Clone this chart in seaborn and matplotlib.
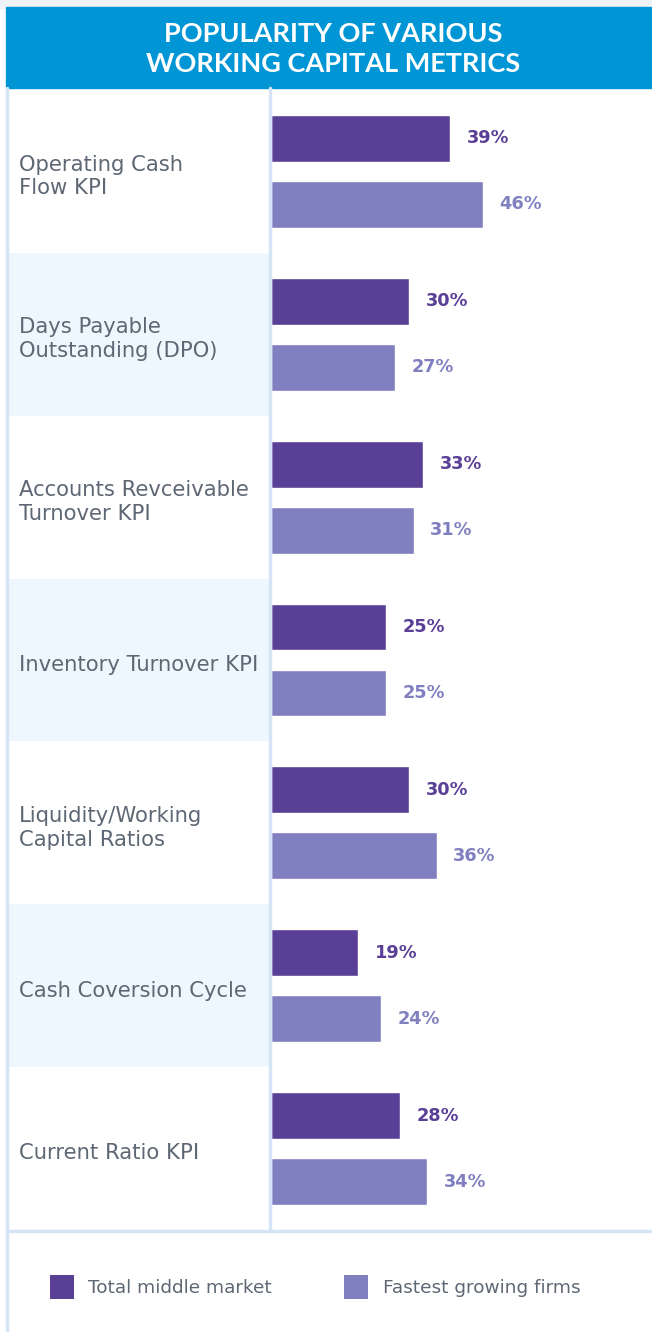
import numpy as np
import pandas as pd
import seaborn as sns
import matplotlib.pyplot as plt
from matplotlib.patches import Rectangle, Patch

# Data
metrics = [
    "Operating Cash\nFlow KPI",
    "Days Payable\nOutstanding (DPO)",
    "Accounts Revceivable\nTurnover KPI",
    "Inventory Turnover KPI",
    "Liquidity/Working\nCapital Ratios",
    "Cash Coversion Cycle",
    "Current Ratio KPI",
]
total_middle = [39, 30, 33, 25, 30, 19, 28]
fastest_growing = [46, 27, 31, 25, 36, 24, 34]
series_names = ["Total middle market", "Fastest growing firms"]

df = pd.DataFrame({
    "metric": metrics * 2,
    "value": total_middle + fastest_growing,
    "group": [series_names[0]] * len(metrics) + [series_names[1]] * len(metrics),
})

dark = "#5A3F96"
light = "#8080C0"
text_gray = "#5E6774"
banner_blue = "#0096D6"
shade = "#EEF6FE"
line_col = "#D5E5F6"

sns.set_style("white")
plt.rcParams["font.family"] = ["DejaVu Sans"]

W, H = 652, 1332
fig = plt.figure(figsize=(W / 100, H / 100), dpi=100)
fig.patch.set_facecolor("white")

def fx(px):
    return px / W

def fy(py):
    return 1 - py / H

# top shadow + banner
fig.patches.append(Rectangle((0, fy(8)), 1, 8 / H, transform=fig.transFigure,
                             color="#EEF2F7", zorder=0))
fig.patches.append(Rectangle((fx(6), fy(88)), 1, 81 / H, transform=fig.transFigure,
                             color=banner_blue, zorder=1))
fig.text(fx(333), fy(49), "POPULARITY OF VARIOUS\nWORKING CAPITAL METRICS",
         ha="center", va="center", color="white", fontsize=19.5, fontweight="bold",
         family=["Lato", "DejaVu Sans"], linespacing=1.25)

y_top, y_bot = 90, 1230

# label panel
lab_ax = fig.add_axes([fx(8), fy(y_bot), fx(261), (y_bot - y_top) / H])
lab_ax.set_xlim(0, 1)
lab_ax.set_ylim(len(metrics) - 0.5, -0.5)
for i, m in enumerate(metrics):
    if i % 2 == 1:
        lab_ax.axhspan(i - 0.5, i + 0.5, color=shade, lw=0)
    lab_ax.text(11 / 261, i + 0.03, m, va="center", ha="left", color=text_gray,
                fontsize=15.2, linespacing=1.22)
lab_ax.axis("off")

# bar panel
ax = fig.add_axes([fx(271), fy(y_bot), 1 - fx(271), (y_bot - y_top) / H])
sns.barplot(data=df, y="metric", x="value", hue="group", orient="h",
            palette=[dark, light], width=0.81, gap=0.29, legend=False,
            saturation=1, ax=ax)
ax.set_xlim(0, (W - 271) / 4.6)
ax.set_ylim(len(metrics) - 0.5, -0.5)
for cont, col in zip(ax.containers, [dark, light]):
    ax.bar_label(cont, labels=[f"{int(v)}%" for v in cont.datavalues], padding=12,
                 color=col, fontsize=12.8, fontweight="bold")
ax.axis("off")

# borders
fig.add_artist(plt.Line2D([fx(7), fx(7)], [0, fy(88)], transform=fig.transFigure,
                          color=line_col, lw=2.5))
fig.add_artist(plt.Line2D([fx(269.5), fx(269.5)], [fy(y_bot), fy(88)],
                          transform=fig.transFigure, color=line_col, lw=2.5))
fig.add_artist(plt.Line2D([fx(7), 1], [fy(y_bot + 1), fy(y_bot + 1)],
                          transform=fig.transFigure, color=line_col, lw=2.5))

# legend
handles = [Patch(facecolor=dark, edgecolor="none"), Patch(facecolor=light, edgecolor="none")]
fig.legend(handles, series_names, loc="center left", bbox_to_anchor=(fx(33), fy(1287)),
           ncol=2, frameon=False, fontsize=13.3, handlelength=1.3, handleheight=1.7,
           handletextpad=0.8, columnspacing=3.9, labelcolor=text_gray)

fig.savefig("out.png", dpi=100)
plt.close(fig)
